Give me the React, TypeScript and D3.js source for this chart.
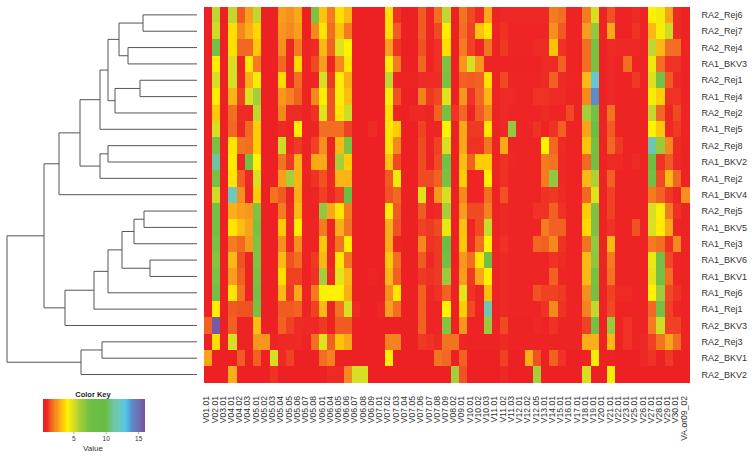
import {useEffect, useRef} from 'react';
import * as d3 from 'd3';

const width = 754;
const height = 457;

const columns = [
  'V01.01', 'V02.01', 'V03.01', 'V04.01', 'V04.02', 'V04.03', 'V05.01', 'V05.02', 'V05.03', 'V05.04',
  'V05.05', 'V05.06', 'V05.07', 'V05.08', 'V06.01', 'V06.04', 'V06.05', 'V06.06', 'V06.07', 'V06.08',
  'V06.09', 'V07.01', 'V07.02', 'V07.03', 'V07.04', 'V07.05', 'V07.06', 'V07.07', 'V07.08', 'V07.09',
  'V08.02', 'V09.01', 'V10.01', 'V10.02', 'V10.03', 'V11.01', 'V11.02', 'V11.03', 'V12.01', 'V12.02',
  'V12.05', 'V13.01', 'V14.01', 'V15.01', 'V16.01', 'V17.01', 'V18.01', 'V19.01', 'V20.01', 'V21.01',
  'V22.01', 'V23.01', 'V25.01', 'V26.01', 'V27.01', 'V28.01', 'V29.01', 'V30.01', 'VA.or09_02',
];

// one list per sample
const RA2_Rej6 = [.5,5.5,.5,5.5,1.5,2.5,5.5,.5,.5,2.5, 2.3,2.7,.5,7,3.2,2,3.7,3,.5,.5, .5,.5,3.7,1,.5,.5,1.5,.7,1.8,5.5, .5,1.9,1.3,.9,2.7,.6,.8,.8,.8,.8, .8,.8,2,1.8,.6,.6,2,5,.6,1.4, .6,.6,.9,.6,4,4.3,2.6,.9,.6];
const RA2_Rej7 = [.5,5.2,.5,3.7,2.2,2.8,3.6,.5,.5,2.4, 2.2,2.5,.5,2.2,3.8,1.8,3.2,2,.5,.5, .5,.5,3.7,1.5,.5,.5,1.5,.7,1.3,3.9, .5,1.8,1.2,3.2,3.8,.6,1,.7,.7,.7, .7,.7,2.3,1.5,.6,.6,2.5,6.5,.6,2.7, .6,.6,1,.6,3,4.2,5.2,.9,.6];
const RA2_Rej4 = [.5,7.5,.5,3.7,1.7,1.7,3.3,.5,.5,2.3, .7,2,.7,.9,3,1.6,4.8,4,.5,.5, .5,.5,2.5,1,.5,.5,1.4,.6,1,3.7, .5,2,1.2,.6,1.9,.6,1.1,.7,.7,.7, .9,.9,3.2,1,.6,.6,1.8,7.3,.6,.9, .8,.8,.8,.6,5.5,3,1.8,1.8,.6];
const RA1_BKV3 = [.5,3.9,.5,5,.7,3.8,2,.5,.5,1.7, .6,3.6,.6,1.3,2.5,.6,2.2,3.8,.5,.5, .5,.5,3.9,2,.5,.5,1.7,.6,1,7, .5,2.4,5,2.4,.6,.6,.6,.6,.6,.6, .6,.9,.9,1.6,.6,.6,1.8,7.2,.6,.8, .6,1.8,.6,.6,4.4,1.8,1,1,.6];
const RA2_Rej1 = [.5,5,.5,5,.8,2.8,4.3,.5,.5,3.6, .7,1.8,.6,.7,5,1.1,3.9,2.8,.5,.5, .5,.5,5.5,.6,.6,.6,.9,.9,.9,7.2, .5,1.6,1.5,1.6,3.7,.6,1.3,.7,.7,.7, .7,.9,1.6,.9,.7,.7,3,12.5,.6,.8, .6,.6,1.1,.6,4.9,7.5,1.5,.8,.6];
const RA1_Rej4 = [.5,3.9,.5,2.9,1.2,4.9,6,.5,.5,2.4, 2.1,1.6,.6,2.2,3.9,1.4,4.2,3.1,.5,.5, .5,.5,4.2,1.4,.5,.5,2.1,1.1,1.3,4.8, .5,2.4,1,1.7,2.9,.6,.9,.9,.7,.7, 1,1,.9,.9,.6,.6,2.2,14,.6,.8, .6,.6,.6,.6,4.2,3.4,1,1,.6];
const RA2_Rej2 = [.5,3.3,.5,1.8,.9,.9,5.5,.5,.5,2.2, .9,.9,.6,1,4.8,1.4,3.8,5.2,.5,.5, .5,.5,3.7,.6,.5,.8,.8,.7,1.6,7.5, 1,1.7,.6,1.5,2.2,.6,.9,.7,.7,.7, .7,.9,.7,.7,1.3,.6,6,7.5,.6,1.9, .6,.6,.6,.6,5.4,1.7,.7,1.3,.6];
const RA1_Rej5 = [.5,5,.5,1.7,.8,1.7,3.4,.5,.5,.9, .7,3.9,.6,.6,1.8,1.8,1.8,1.2,.5,.5, .9,.5,3.8,3.4,.5,.5,1.2,.7,.7,4, .5,2.7,1.1,1.1,3.8,.6,.8,6.5,.7,.7, 1,.6,1,1.6,.6,.6,2.6,8.5,.6,1.5, .6,.6,.6,.6,4,3.3,.8,1.1,.6];
const RA2_Rej8 = [.5,7.2,.5,3.8,1.9,1.8,3.4,.5,.5,5.2, .8,1.1,.6,1.2,2.3,.6,3,7,.5,.5, .5,.5,3.8,2.2,.5,.5,1.3,.7,1.2,5, .5,2.7,1,1,1.9,.6,2.7,.7,.7,.7, .7,4,1.7,.9,.6,.6,3.2,7.5,.6,1.7, 1.1,.6,.6,.6,11.5,6.3,2.2,.9,.6];
const RA1_BKV2 = [.5,11,.5,3.9,.7,7.5,4,.5,.5,1.9, 1.1,2.9,.6,2.7,2.7,.6,6,3.4,.5,.5, .5,.5,3.2,1.3,.5,.5,1.3,.6,1.3,7.5, .5,3.1,1.6,3.4,3.4,.6,1,.8,.7,.7, .7,2,1.9,.8,.6,.6,1.7,7.6,.6,.9, .9,.6,.9,.6,7.8,1,1.5,.8,.6];
const RA1_Rej2 = [.5,7.2,.5,3.8,1.6,.8,5,.5,.5,2.5, 6,2.9,.6,1,1.4,.8,2.9,2.9,.5,.5, .5,.5,1.5,4.4,.5,.5,1.3,1.3,1.6,7.2, .5,3.4,.7,.7,3.9,.6,1,.7,.7,.7, .7,2,6.5,.8,.6,.6,3,5.8,.6,1.6, .6,.6,.6,.6,7.6,1.3,3,1.7,.6];
const RA1_BKV4 = [.5,5.2,.5,12,2.3,.6,3.4,.5,1.9,1.5, .6,2.8,.6,.7,1.2,.7,1.2,8,.5,.5, .5,.5,1.4,1.7,.5,.5,4.8,.6,2.4,5, .5,2.2,.7,.7,1.8,.6,1.4,.7,.7,.7, .7,1,1.1,.9,.6,.6,1.7,4.8,.6,1.2, .6,.6,.6,.6,2,1.6,1.1,.7,2.3];
const RA2_Rej5 = [.5,7.5,.5,2.8,2.5,2.4,7,.5,.5,2, .8,3,.6,.6,6.5,2.7,3.8,2,.5,.5, .5,.5,3.9,1.5,.5,.5,1.5,.7,.9,6, .5,2.5,1.3,1.3,2.1,.6,.9,.7,.7,.7, 1,1,1.6,1,.6,.6,3.4,7,.6,1.2, .6,.6,.6,.6,5,4.1,2,1,.6];
const RA1_BKV5 = [.5,7.5,.5,3.8,3.1,2.6,7.3,.5,.5,3.3, .8,3.9,.6,.6,2,.6,2.8,1.9,.5,.5, .5,.5,2.8,1.4,.5,.5,1.2,1.1,1.3,4.6, .5,3.2,.7,1.3,5.3,.6,.9,.7,.7,.7, .7,2,1.6,1.6,.6,.6,3.6,7,.6,1, .6,.6,1.4,.6,4.9,3.9,2.7,.7,.6];
const RA1_Rej3 = [.5,7.2,.5,2,1.7,2.4,7,.5,.5,2.3, .7,2.3,.6,.6,3.3,.6,1.9,3.9,.5,.5, .5,.5,2.8,.7,.5,.5,2.2,1,1.1,7.8, .5,3.3,.8,1.8,4,.6,1,.7,.7,.7, 1.7,1.6,2.2,1,.6,.6,1.9,6.5,.6,3, .6,.6,.6,.6,2,1.8,1,2.2,.6];
const RA1_BKV6 = [.5,6.8,.5,3,1.4,.6,7,.5,.5,3, 1.4,1.8,.6,1.1,3,.7,3.8,1.9,.5,.5, .5,.5,3.3,1.8,.5,.5,1.5,.8,1.1,7.6, .5,2.4,1.8,3.8,7.6,.6,.9,.7,.7,.7, .7,.7,1,.9,.6,.6,3,6.6,.6,2, .6,.6,.6,.6,4.5,7.5,1.3,.7,.6];
const RA1_BKV1 = [.5,7.2,.5,2.5,1.6,.6,7.2,.5,.5,3.7, 1.2,1.2,.6,1,6,.8,4.7,3,.5,.5, .7,.5,3,1.6,.5,.5,1.1,1,1.1,6.3, .5,2.5,1.1,2.7,4.1,.6,.9,.7,.7,.7, .7,.7,1.6,.7,.6,.6,3,7.2,.6,1.9, .6,.6,.6,.6,4.7,7.5,1.8,.7,.6];
const RA1_Rej6 = [.5,7.5,.5,3.8,1.9,.6,7.5,.5,.5,3, 1.1,2.7,.6,2,4.1,4,4,2.8,.5,.5, .5,.5,2.3,3.8,.5,.5,1.6,.8,1,1.6, .5,4.7,1,.7,3.1,.6,.9,.7,.7,.7, 1.4,1.2,1.2,1.1,.6,.6,2.3,7.5,.6,1.2, .9,.9,.6,.6,4,6.2,1.3,1,.6];
const RA1_Rej1 = [.5,3.9,.5,1.5,1.4,1.4,7.3,.5,.5,1.5, 1.5,1.6,.6,1.2,3,.6,1.9,5,.9,.5, .5,.8,2.5,1.8,.5,.5,1.6,.7,.7,4, .5,3.4,1.3,.6,11.5,.6,.9,.7,.7,.7, .7,1,2.2,1,.6,.6,2.1,5.4,.6,1.3, .6,.6,.6,.6,1.7,7.5,1.2,.7,.6];
const RA2_BKV3 = [1.6,15.6,.5,1.6,.6,.6,3.1,.5,.5,1.6, 1.2,.9,.8,.8,1.1,.6,1.5,1.5,.5,.5, .5,.5,.5,.5,.5,.5,1.6,.6,.7,6.8, .5,2.4,.6,.6,6.3,.6,1.3,.6,.6,.6, .8,.7,1,.6,.6,.6,1.2,7.5,.6,6.4, .6,1,.6,.6,2,5.2,1.2,1.2,.6];
const RA2_Rej3 = [.5,3.7,.5,5,.6,.6,2.4,2.4,.7,.8, .8,.9,.6,1.8,4.8,1.6,3.2,2.7,.5,.5, .5,.5,2.1,2.1,.5,.5,1.1,1,.9,1.9, 1.9,.7,.6,.6,.6,.6,.9,.6,.6,.6, .6,.6,.6,.6,.6,.6,2.8,2.8,.6,3, .6,1,.6,.8,1.2,1.9,2.6,1.8,.6];
const RA2_BKV1 = [2.6,.5,.5,.5,1.5,.5,1.6,.5,5,.9, 1.2,.5,.5,.5,1.8,2.1,.5,.5,.5,.5, .5,.5,3.9,.5,.5,.5,.5,.5,1.9,1.7, .5,1.6,.5,.5,.5,.5,1.2,.5,.5,2.8, 1.4,.5,1.6,1,.5,.5,.6,4.3,.6,.6, .5,.5,.5,.8,1,.5,1.1,.5,.5];
const RA2_BKV2 = [.5,.5,.5,2.8,.5,.5,.5,.5,1,.5, .5,.5,.5,.5,.5,.9,.8,2.2,5,5, .5,.5,.5,.5,.5,.5,.5,.5,.5,.5, 6,1.4,.5,.5,.5,.5,.8,.5,.5,.5, 6,.5,.5,.5,.5,.5,5,.5,.5,4.2, .5,.5,.5,.5,.5,.5,.5,.5,.5];

const samples: [string, number[]][] = [
  ['RA2_Rej6', RA2_Rej6], ['RA2_Rej7', RA2_Rej7], ['RA2_Rej4', RA2_Rej4], ['RA1_BKV3', RA1_BKV3],
  ['RA2_Rej1', RA2_Rej1], ['RA1_Rej4', RA1_Rej4], ['RA2_Rej2', RA2_Rej2], ['RA1_Rej5', RA1_Rej5],
  ['RA2_Rej8', RA2_Rej8], ['RA1_BKV2', RA1_BKV2], ['RA1_Rej2', RA1_Rej2], ['RA1_BKV4', RA1_BKV4],
  ['RA2_Rej5', RA2_Rej5], ['RA1_BKV5', RA1_BKV5], ['RA1_Rej3', RA1_Rej3], ['RA1_BKV6', RA1_BKV6],
  ['RA1_BKV1', RA1_BKV1], ['RA1_Rej6', RA1_Rej6], ['RA1_Rej1', RA1_Rej1], ['RA2_BKV3', RA2_BKV3],
  ['RA2_Rej3', RA2_Rej3], ['RA2_BKV1', RA2_BKV1], ['RA2_BKV2', RA2_BKV2],
];

// colour key stops
const colorValues = [.3, .9, 1.5, 2, 2.5, 3, 3.5, 4, 5, 6, 7, 8, 10, 11, 12, 13, 14, 15, 15.9];
const colorStops = [
  '#ed1c24', '#ee2a24', '#f15a22', '#f47b20', '#f99d1c', '#fdb913', '#ffd200', '#fff200', '#d7df23', '#a6ce39',
  '#7dc242', '#6abd45', '#69bd45', '#6ec4a0', '#6dc8bf', '#54c5eb', '#5b8dc9', '#6f6db2', '#7b4fa0',
];

// dendrogram: merge heights, leaves named by sample
type Node = {name?: string; h: number; children?: Node[]};
const leaf = (name: string): Node => ({name, h: 0});
const clusterTop: Node = {h: 15.3, children: [
  {h: 13.8, children: [
    {h: 11.7, children: [
      {h: 9.7, children: [
        {h: 8.9, children: [
          {h: 7.8, children: [
            {h: 5.4, children: [leaf('RA2_Rej6'), leaf('RA2_Rej7')]},
            {h: 6.9, children: [leaf('RA2_Rej4'), leaf('RA1_BKV3')]},
          ]},
          {h: 8.2, children: [
            {h: 5.7, children: [leaf('RA2_Rej1'), leaf('RA1_Rej4')]},
            leaf('RA2_Rej2'),
          ]},
        ]},
        leaf('RA1_Rej5'),
      ]},
      {h: 9.7, children: [
        {h: 8.9, children: [leaf('RA2_Rej8'), leaf('RA1_BKV2')]},
        leaf('RA1_Rej2'),
      ]},
    ]},
    leaf('RA1_BKV4'),
  ]},
  {h: 13.2, children: [
    {h: 10.3, children: [
      {h: 8.9, children: [
        {h: 7.5, children: [
          {h: 6.3, children: [
            {h: 5.3, children: [leaf('RA2_Rej5'), leaf('RA1_BKV5')]},
            leaf('RA1_Rej3'),
          ]},
          {h: 4.7, children: [leaf('RA1_BKV6'), leaf('RA1_BKV1')]},
        ]},
        leaf('RA1_Rej6'),
      ]},
      leaf('RA1_Rej1'),
    ]},
    leaf('RA2_BKV3'),
  ]},
]};
const clusterBottom: Node = {h: 11.6, children: [
  {h: 9.5, children: [leaf('RA2_Rej3'), leaf('RA2_BKV1')]},
  leaf('RA2_BKV2'),
]};
const tree: Node = {h: 19, children: [clusterTop, clusterBottom]};

const App = () => {
  const svgRef = useRef<SVGSVGElement>(null);

  useEffect(() => {
    const svg = d3.select(svgRef.current);
    svg.selectAll('*').remove();

    const x = d3.scaleBand().domain(columns).range([203.7, 689.3]);
    const y = d3.scaleBand().domain(samples.map(d => d[0])).range([6.7, 382.7]);
    const color = d3.scaleLinear<string>().domain(colorValues).range(colorStops).clamp(true);

    // Cells
    const cells = samples.flatMap(([name, values]) => values.map((v, i) => ({name, col: columns[i], v})));
    svg.append('g')
      .attr('shape-rendering', 'crispEdges')
      .selectAll('rect')
      .data(cells)
      .enter().append('rect')
      .attr('x', d => x(d.col))
      .attr('y', d => y(d.name))
      .attr('width', x.bandwidth() + 0.5)
      .attr('height', y.bandwidth() + 0.5)
      .attr('fill', d => color(d.v));

    // Row labels
    svg.append('g')
      .selectAll('text')
      .data(samples)
      .enter().append('text')
      .attr('x', 701.5)
      .attr('y', d => y(d[0]) + y.bandwidth() / 2)
      .attr('dy', '0.35em')
      .style('font-family', '"Liberation Sans", Arial, sans-serif')
      .style('font-size', '9px')
      .style('fill', '#333')
      .text(d => d[0]);

    // Column labels
    svg.append('g')
      .selectAll('text')
      .data(columns)
      .enter().append('text')
      .attr('transform', d => `translate(${x(d) + x.bandwidth() / 2 - 1.5}, 396) rotate(-90)`)
      .attr('dy', '0.35em')
      .style('text-anchor', 'end')
      .style('font-family', '"Liberation Sans", Arial, sans-serif')
      .style('font-size', '8.6px')
      .style('fill', '#333')
      .text(d => d);

    // Dendrogram
    const hx = d3.scaleLinear().domain([19, 0]).range([7, 197]);
    const root = d3.hierarchy(tree);
    root.eachAfter((n: any) => {
      n.py = n.children
        ? d3.mean(n.children, (c: any) => c.py)
        : y(n.data.name) + y.bandwidth() / 2;
    });
    const path = d3.path();
    root.each((n: any) => {
      if (!n.children) return;
      const [a, b] = n.children;
      path.moveTo(hx(a.data.h), a.py);
      path.lineTo(hx(n.data.h), a.py);
      path.lineTo(hx(n.data.h), b.py);
      path.lineTo(hx(b.data.h), b.py);
    });
    svg.append('path')
      .attr('d', path.toString())
      .attr('fill', 'none')
      .attr('stroke', '#555')
      .attr('stroke-width', 1);

    // Color key
    const keyX = d3.scaleLinear().domain([0.34, 15.9]).range([43, 144]);
    const keySteps = d3.range(0.34, 15.9, 0.16);
    svg.append('g')
      .attr('shape-rendering', 'crispEdges')
      .selectAll('rect')
      .data(keySteps)
      .enter().append('rect')
      .attr('x', d => keyX(d))
      .attr('y', 399)
      .attr('width', keyX(0.5) - keyX(0.34) + 0.6)
      .attr('height', 33)
      .attr('fill', d => color(d));

    const keyAxis = d3.axisBottom(keyX).tickValues([5, 10, 15]).tickSize(2).tickPadding(2);
    const keyG = svg.append('g')
      .attr('transform', 'translate(0, 432)')
      .call(keyAxis);
    keyG.select('.domain').remove();
    keyG.selectAll('line').attr('stroke', '#555').attr('stroke-width', 0.5);
    keyG.selectAll('text')
      .style('font-family', '"Liberation Sans", Arial, sans-serif')
      .style('font-size', '6.5px')
      .style('fill', '#333');

    svg.append('text')
      .attr('x', 93)
      .attr('y', 396.5)
      .style('text-anchor', 'middle')
      .style('font-family', '"Liberation Sans", Arial, sans-serif')
      .style('font-size', '7.5px')
      .style('font-weight', 'bold')
      .style('fill', '#222')
      .text('Color Key');

    svg.append('text')
      .attr('x', 93)
      .attr('y', 451)
      .style('text-anchor', 'middle')
      .style('font-family', '"Liberation Sans", Arial, sans-serif')
      .style('font-size', '8px')
      .style('fill', '#333')
      .text('Value');
  }, []);

  return (
    <svg
      ref={svgRef}
      width={width}
      height={height}
      style={{position: 'absolute', left: 0, top: 0, background: '#fff'}}
    />
  );
};

export default App;
